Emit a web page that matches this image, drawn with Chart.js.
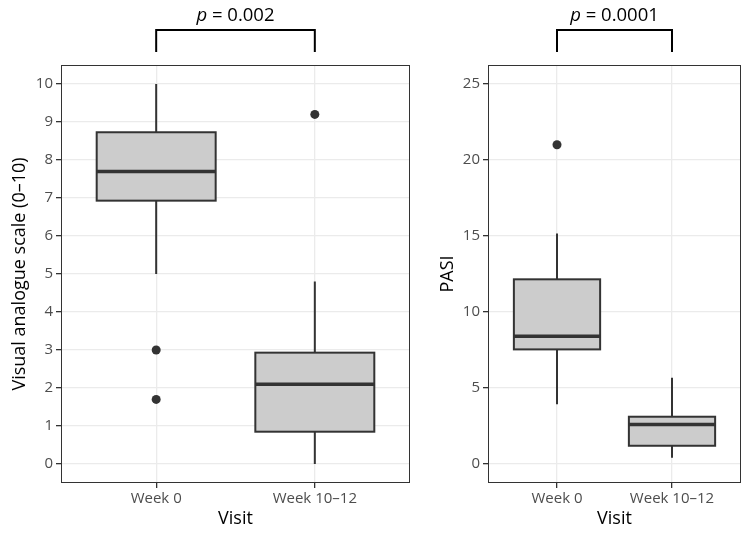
<!DOCTYPE html>
<html>
<head>
<meta charset="utf-8">
<script src="https://cdn.jsdelivr.net/npm/chart.js@4.4.0/dist/chart.umd.min.js"></script>
<style>
  body { margin: 0; background: #fff; }
  .panel { position: absolute; top: 0; height: 536px; }
  #left { left: 0; width: 420px; }
  #right { left: 420px; width: 328px; }
</style>
</head>
<body>
<div class="panel" id="left"><canvas id="vas"></canvas></div>
<div class="panel" id="right"><canvas id="pasi"></canvas></div>
<script>
const categories = ["Week 0", "Week 10–12"]

// Visual analogue scale, one value per visit
const vasLowWhisker = [5.0, 0.0]
const vasQ1 = [6.93, 0.85]
const vasMedian = [7.7, 2.1]
const vasQ3 = [8.73, 2.93]
const vasHighWhisker = [10.0, 4.8]
const vasOutliers = [[3.0, 1.7], [9.2]]
const vasTicks = [0, 1, 2, 3, 4, 5, 6, 7, 8, 9, 10]

// PASI
const pasiLowWhisker = [3.93, 0.41]
const pasiQ1 = [7.54, 1.2]
const pasiMedian = [8.4, 2.6]
const pasiQ3 = [12.15, 3.11]
const pasiHighWhisker = [15.17, 5.68]
const pasiOutliers = [[21.0], []]
const pasiTicks = [0, 5, 10, 15, 20, 25]

const pValues = ["0.002", "0.0001"]

Chart.defaults.font.family = "'Open Sans', sans-serif"

const boxPlugin = {
  id: "boxes",
  beforeDatasetsDraw(chart, args, opts) {
    const { ctx } = chart
    const x = chart.scales.x
    const y = chart.scales.y
    const half = 0.375
    ctx.save()
    ctx.strokeStyle = "#333333"
    for (let i = 0; i < categories.length; i++) {
      const cx = x.getPixelForValue(i + 1)
      const left = x.getPixelForValue(i + 1 - half)
      const right = x.getPixelForValue(i + 1 + half)
      const q1 = y.getPixelForValue(opts.q1[i])
      const q3 = y.getPixelForValue(opts.q3[i])
      const med = y.getPixelForValue(opts.median[i])

      ctx.lineWidth = 2
      ctx.beginPath()
      ctx.moveTo(cx, q3)
      ctx.lineTo(cx, y.getPixelForValue(opts.high[i]))
      ctx.moveTo(cx, q1)
      ctx.lineTo(cx, y.getPixelForValue(opts.low[i]))
      ctx.stroke()

      ctx.fillStyle = "#CCCCCC"
      ctx.fillRect(left, q3, right - left, q1 - q3)
      ctx.strokeRect(left, q3, right - left, q1 - q3)

      ctx.lineWidth = 3.5
      ctx.beginPath()
      ctx.moveTo(left, med)
      ctx.lineTo(right, med)
      ctx.stroke()
    }
    ctx.restore()
  },
  afterDraw(chart, args, opts) {
    const { ctx, chartArea } = chart
    const x = chart.scales.x
    ctx.save()
    ctx.strokeStyle = "#333333"
    ctx.lineWidth = 1
    ctx.strokeRect(chartArea.left + 0.5, chartArea.top + 0.5,
      chartArea.right - chartArea.left - 1, chartArea.bottom - chartArea.top - 1)

    // significance bracket
    const x1 = x.getPixelForValue(1)
    const x2 = x.getPixelForValue(2)
    ctx.strokeStyle = "#000"
    ctx.lineWidth = 2
    ctx.beginPath()
    ctx.moveTo(x1, 52)
    ctx.lineTo(x1, 30)
    ctx.lineTo(x2, 30)
    ctx.lineTo(x2, 52)
    ctx.stroke()

    ctx.fillStyle = "#000"
    ctx.textBaseline = "alphabetic"
    ctx.font = "italic 18.5px 'Open Sans', sans-serif"
    const pw = ctx.measureText("p").width
    const rest = " = " + opts.p
    ctx.font = "18.5px 'Open Sans', sans-serif"
    const rw = ctx.measureText(rest).width
    const start = (x1 + x2) / 2 - (pw + rw) / 2
    ctx.font = "italic 18.5px 'Open Sans', sans-serif"
    ctx.fillText("p", start, 21)
    ctx.font = "18.5px 'Open Sans', sans-serif"
    ctx.fillText(rest, start + pw, 21)
    ctx.restore()
  }
}

function makeChart(id, cfg) {
  const outlierPoints = []
  cfg.outliers.forEach((vals, i) => vals.forEach(v => outlierPoints.push({ x: i + 1, y: v })))

  return new Chart(document.getElementById(id), {
    type: "scatter",
    data: {
      datasets: [{
        data: outlierPoints,
        pointRadius: 4.5,
        pointBackgroundColor: "#333333",
        pointBorderColor: "#333333",
        pointBorderWidth: 0
      }]
    },
    plugins: [boxPlugin],
    options: {
      responsive: true,
      maintainAspectRatio: false,
      animation: false,
      layout: { padding: { top: 65, right: cfg.padRight, left: 0, bottom: 0 } },
      plugins: {
        legend: { display: false },
        tooltip: { enabled: false },
        boxes: {
          low: cfg.low, q1: cfg.q1, median: cfg.median, q3: cfg.q3, high: cfg.high,
          p: cfg.p
        }
      },
      scales: {
        x: {
          type: "linear",
          min: 0.4,
          max: 2.6,
          afterBuildTicks: scale => { scale.ticks = categories.map((c, i) => ({ value: i + 1 })) },
          afterFit: scale => { scale.height = 53 },
          grid: { color: "#EBEBEB", lineWidth: 1.3, tickColor: "#333333", tickLength: 5 },
          border: { display: false },
          ticks: {
            autoSkip: false,
            maxRotation: 0,
            padding: 2,
            color: "#4D4D4D",
            font: { size: 15 },
            callback: v => categories[v - 1]
          },
          title: {
            display: true,
            text: "Visit",
            color: "#000",
            font: { size: 18 },
            padding: { top: 0, bottom: 6 }
          }
        },
        y: {
          min: cfg.min,
          max: cfg.max,
          afterBuildTicks: scale => { scale.ticks = cfg.ticks.map(v => ({ value: v })) },
          afterFit: scale => { scale.width = cfg.axisWidth },
          grid: { color: "#EBEBEB", lineWidth: 1.3, tickColor: "#333333", tickLength: 5 },
          border: { display: false },
          ticks: {
            padding: 3,
            color: "#4D4D4D",
            font: { size: 15 }
          },
          title: {
            display: true,
            text: cfg.title,
            color: "#000",
            font: { size: 18 },
            padding: { top: cfg.titlePad, bottom: 0 }
          }
        }
      }
    }
  })
}

makeChart("vas", {
  low: vasLowWhisker, q1: vasQ1, median: vasMedian, q3: vasQ3, high: vasHighWhisker,
  outliers: vasOutliers, ticks: vasTicks, min: -0.5, max: 10.5,
  title: "Visual analogue scale (0–10)", p: pValues[0],
  axisWidth: 61, padRight: 10, titlePad: 9
})

makeChart("pasi", {
  low: pasiLowWhisker, q1: pasiQ1, median: pasiMedian, q3: pasiQ3, high: pasiHighWhisker,
  outliers: pasiOutliers, ticks: pasiTicks, min: -1.25, max: 26.25,
  title: "PASI", p: pValues[1],
  axisWidth: 68, padRight: 7, titlePad: 17
})
</script>
</body>
</html>
